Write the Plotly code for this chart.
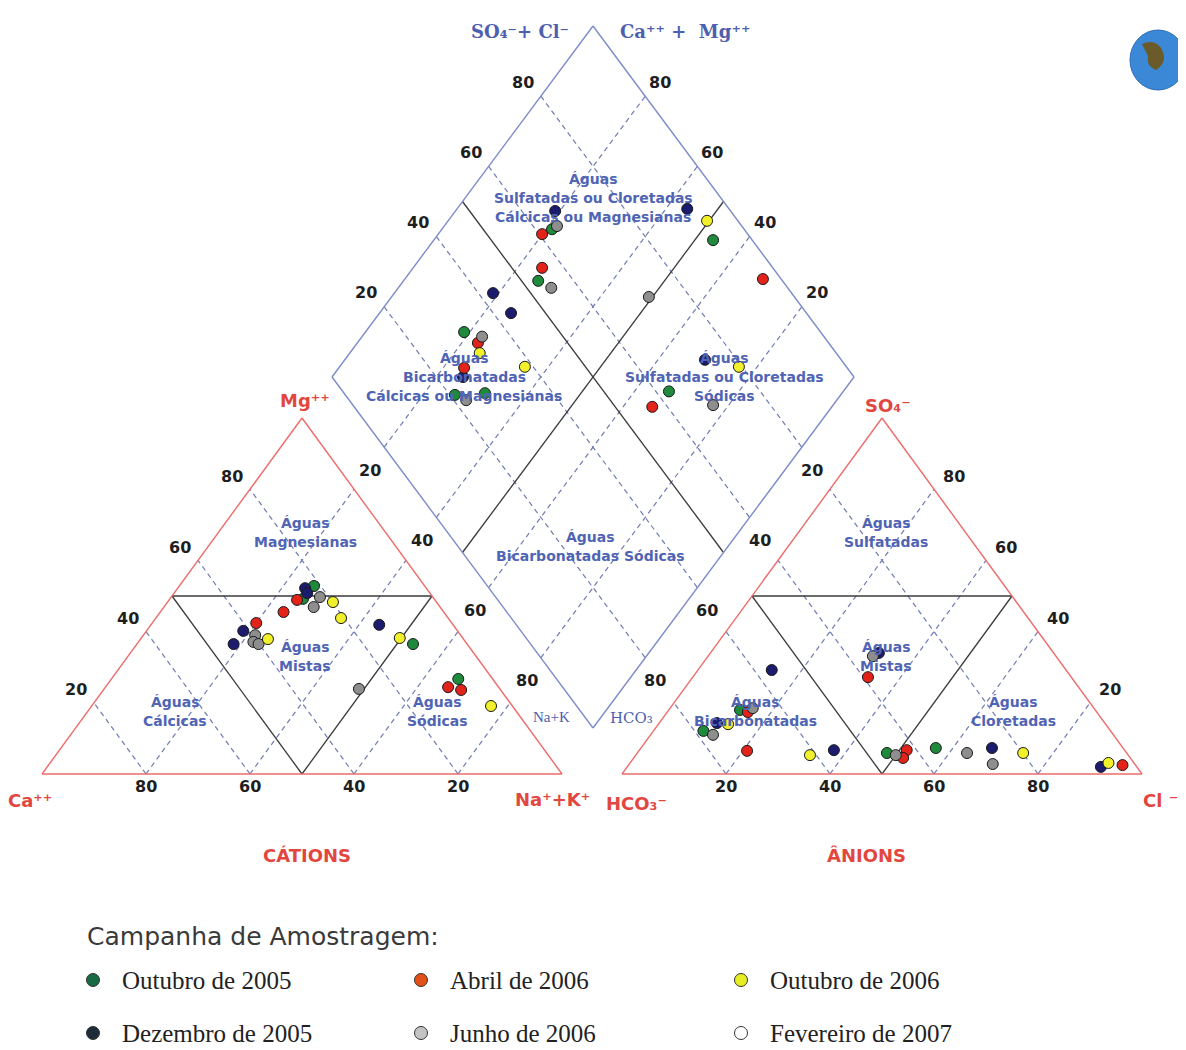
import plotly.graph_objects as go

# ---------------- data ----------------
SERIES = ["Outubro de 2005", "Dezembro de 2005", "Abril de 2006",
          "Junho de 2006", "Outubro de 2006", "Fevereiro de 2007"]
POINT_COLORS = ["#1f8a3c", "#1c1c6e", "#e2231a", "#8e8e8e", "#f2f02a", "#ffffff"]
LEGEND_COLORS = ["#166b45", "#1e2b38", "#e2501a", "#c4c4c4", "#e6ee22", "#ffffff"]

# Cations (% meq/L): series index, Mg++, Na+ + K+   (Ca++ = 100 - Mg - NaK)
cat_series = [0, 0, 0, 0,
              1, 1, 1, 1, 1,
              2, 2, 2, 2, 2,
              3, 3, 3, 3, 3, 3,
              4, 4, 4, 4, 4]
cat_mg = [52.8, 49.2, 36.5, 26.7,
          52.2, 50.8, 41.9, 40.2, 36.5,
          48.9, 45.5, 42.4, 24.4, 23.6,
          49.7, 46.9, 39.0, 37.1, 36.5, 23.9,
          48.3, 43.8, 37.9, 38.2, 19.1]
cat_nak = [25.9, 25.6, 53.1, 66.7,
           24.5, 25.6, 43.9, 18.6, 18.6,
           24.6, 23.7, 20.0, 65.9, 68.8,
           28.6, 28.8, 21.5, 22.1, 23.4, 49.0,
           31.8, 35.6, 24.5, 49.7, 76.8]

# Anions (% meq/L): series index, SO4--, Cl-   (HCO3- = 100 - SO4 - Cl)
an_series = [0, 0, 0, 0,
             1, 1, 1, 1, 1, 1,
             2, 2, 2, 2, 2, 2,
             3, 3, 3, 3, 3, 3,
             4, 4, 4, 4]
an_so4 = [18.0, 12.1, 5.9, 7.3,
          29.2, 14.3, 6.7, 34.0, 7.3, 2.0,
          17.4, 6.5, 27.2, 6.7, 4.5, 2.5,
          18.5, 11.0, 33.1, 5.3, 5.9, 2.8,
          14.0, 5.3, 5.9, 3.1]
an_cl = [13.7, 9.6, 48.0, 56.7,
         14.2, 11.1, 37.4, 32.4, 67.5, 91.1,
         15.5, 20.8, 33.7, 51.4, 51.8, 95.0,
         15.9, 12.0, 31.7, 50.0, 63.4, 69.9,
         13.4, 33.5, 74.2, 92.0]

# Diamond: series index, Na+K (%), SO4+Cl (%)
dia_series = [0, 0, 0, 0, 0, 0, 0,
              1, 1, 1, 1, 1, 1,
              2, 2, 2, 2, 2, 2,
              3, 3, 3, 3, 3, 3,
              4, 4, 4, 4]
dia_nak = [21.1, 25.8, 18.9, 26.1, 31.6, 53.5, 66.6,
           19.1, 18.9, 25.2, 25.1, 44.1, 69.0,
           19.9, 24.7, 23.1, 24.0, 68.6, 65.6,
           21.6, 29.3, 23.0, 29.0, 49.3, 77.0,
           24.9, 35.5, 49.6, 76.5]
dia_so4cl = [63.2, 53.2, 31.7, 21.0, 27.0, 92.5, 62.5,
             66.4, 42.8, 43.4, 25.1, 92.0, 73.9,
             60.6, 55.8, 32.8, 26.6, 96.5, 57.1,
             64.6, 54.7, 34.5, 22.4, 72.1, 69.0,
             31.7, 38.4, 94.1, 79.4]

TICKS = [20, 40, 60, 80]

# ---------------- geometry (page frame) ----------------
CAT = (42, 562, 774, 356)   # left x, right x, base y, height
AN = (622, 1142, 774, 356)
DIA_X0, DIA_Y0, DIA_DX, DIA_DY = 332, 377, 2.61, 3.51
OFF = 8  # page body margin


def tri(T, right, top):
    x0, x1, yb, h = T
    return x0 + (x1 - x0) * (right + top / 2) / 100, yb - h * top / 100


def dia(a, b):
    return DIA_X0 + DIA_DX * (a + b), DIA_Y0 + DIA_DY * (a - b)


fig = go.Figure()


def add_lines(segs, color, width, dash="solid"):
    xs, ys = [], []
    for p, q in segs:
        xs += [p[0], q[0], None]
        ys += [p[1], q[1], None]
    fig.add_trace(go.Scatter(x=xs, y=ys, mode="lines",
                             line=dict(color=color, width=width, dash=dash),
                             hoverinfo="skip", showlegend=False))


GRID = "#6f7bb2"
dash_segs, black_segs, red_segs, blue_segs = [], [], [], []
for T in (CAT, AN):
    for v in TICKS:
        dash_segs.append((tri(T, 100 - v, 0), tri(T, 0, 100 - v)))
        dash_segs.append((tri(T, v, 0), tri(T, v, 100 - v)))
    black_segs += [(tri(T, 0, 50), tri(T, 50, 50)),
                   (tri(T, 50, 0), tri(T, 0, 50)),
                   (tri(T, 50, 0), tri(T, 50, 50))]
    c = [tri(T, 0, 0), tri(T, 100, 0), tri(T, 0, 100)]
    red_segs += [(c[0], c[1]), (c[1], c[2]), (c[2], c[0])]
for v in TICKS:
    dash_segs.append((dia(v, 0), dia(v, 100)))
    dash_segs.append((dia(0, v), dia(100, v)))
black_segs += [(dia(50, 0), dia(50, 100)), (dia(0, 50), dia(100, 50))]
d = [dia(0, 0), dia(0, 100), dia(100, 100), dia(100, 0)]
blue_segs += [(d[0], d[1]), (d[1], d[2]), (d[2], d[3]), (d[3], d[0])]

add_lines(dash_segs, GRID, 1.2, "5px,4px")
add_lines(black_segs, "#3a3a3a", 1.3)
add_lines(red_segs, "#ee6b6b", 1.4)
add_lines(blue_segs, "#7d8bc9", 1.4)

# ---------------- sample points ----------------
for s in range(5):
    xs, ys = [], []
    for i, k in enumerate(cat_series):
        if k == s:
            x, y = tri(CAT, cat_nak[i], cat_mg[i]); xs.append(x); ys.append(y)
    for i, k in enumerate(an_series):
        if k == s:
            x, y = tri(AN, an_cl[i], an_so4[i]); xs.append(x); ys.append(y)
    for i, k in enumerate(dia_series):
        if k == s:
            x, y = dia(dia_nak[i], dia_so4cl[i]); xs.append(x); ys.append(y)
    fig.add_trace(go.Scatter(x=xs, y=ys, mode="markers", name=SERIES[s],
                             marker=dict(size=11, color=POINT_COLORS[s],
                                         line=dict(color="#1a1a1a", width=1)),
                             showlegend=False))

ann = []


def text(x, y, t, size, color, family="DejaVu Sans", xanchor="center", yanchor="middle"):
    ann.append(dict(x=x, y=y, xref="x", yref="y", text=t, showarrow=False,
                    font=dict(size=size, color=color, family=family),
                    xanchor=xanchor, yanchor=yanchor))


# ---------------- tick labels ----------------
TF = dict(size=16, color="#1e1e1e", family="DejaVu Sans")
for v in TICKS:
    x, y = tri(CAT, 0, v); text(x - 18, y - 13, "<b>%d</b>" % v, **TF)          # Mg
    x, y = tri(CAT, 0, 0); x += (CAT[1] - CAT[0]) * (100 - v) / 100
    text(x, y + 12, "<b>%d</b>" % v, **TF)                                      # Ca
    x, y = tri(AN, 100 - v, v); text(x + 20, y - 13, "<b>%d</b>" % v, **TF)    # SO4
    x, y = tri(AN, v, 0); text(x, y + 12, "<b>%d</b>" % v, **TF)                # Cl
    x, y = dia(0, v); text(x - 18, y - 14, "<b>%d</b>" % v, **TF)               # SO4+Cl
    x, y = dia(100 - v, 100); text(x + 15, y - 14, "<b>%d</b>" % v, **TF)       # Ca+Mg
    x, y = dia(v, 0); text(x - 14, y + 23, "<b>%d</b>" % v, **TF)               # Na+K
    x, y = dia(100, 100 - v); text(x + 10, y + 23, "<b>%d</b>" % v, **TF)       # HCO3

# ---------------- axis / corner labels ----------------
BLUE_T = "#4d5fae"
text(520, 31, "<b>SO₄⁻+ Cl⁻</b>", 18, BLUE_T, "DejaVu Serif")
text(685, 31, "<b>Ca⁺⁺ +  Mg⁺⁺</b>", 18, BLUE_T, "DejaVu Serif")
text(551, 717, "Na+K", 15, BLUE_T, "Liberation Serif")
text(631, 718, "HCO₃", 15, BLUE_T, "DejaVu Serif")

RED_T = "#e2473f"
text(305, 400, "<b>Mg⁺⁺</b>", 18, RED_T)
text(30, 800, "<b>Ca⁺⁺</b>", 18, RED_T)
text(552, 799, "<b>Na⁺+K⁺</b>", 18, RED_T)
text(636, 803, "<b>HCO₃⁻</b>", 18, RED_T)
text(888, 405, "<b>SO₄⁻</b>", 18, RED_T)
text(1160, 800, "<b>Cl ⁻</b>", 18, RED_T)
text(307, 855, "<b>CÁTIONS</b>", 18, RED_T)
text(866, 855, "<b>ÂNIONS</b>", 18, RED_T)

# ---------------- region names ----------------
RF = 14
REG_T = "#5064b4"
regions = [
    (593, ["Águas", "Sulfatadas ou Cloretadas", "Cálcicas ou Magnesianas"], 179),
    (464, ["Águas", "Bicarbonatadas", "Cálcicas ou Magnesianas"], 358),
    (724, ["Águas", "Sulfatadas ou Cloretadas", "Sódicas"], 358),
    (590, ["Águas", "Bicarbonatadas Sódicas"], 537),
    (305, ["Águas", "Magnesianas"], 523),
    (305, ["Águas", "Mistas"], 647),
    (175, ["Águas", "Cálcicas"], 702),
    (437, ["Águas", "Sódicas"], 702),
    (886, ["Águas", "Sulfatadas"], 523),
    (886, ["Águas", "Mistas"], 647),
    (755, ["Águas", "Bicarbonatadas"], 702),
    (1013, ["Águas", "Cloretadas"], 702),
]
for x, lines, y0 in regions:
    for j, ln in enumerate(lines):
        text(x, y0 + 19 * j, "<b>%s</b>" % ln, RF, REG_T)

# ---------------- legend ----------------
text(85, 936, "Campanha de Amostragem:", 25, "#3a3a3a", "DejaVu Sans", xanchor="left")
leg_cols = [93, 421, 741]
leg_rows = [980, 1033]
lx, ly = [], []
for s in range(6):
    cx, ry = leg_cols[s // 2], leg_rows[s % 2]
    lx.append(cx); ly.append(ry)
    text(cx + 27, ry, SERIES[s], 25, "#222222", "Liberation Serif", xanchor="left")
fig.add_trace(go.Scatter(x=lx, y=ly, mode="markers", showlegend=False, hoverinfo="skip",
                         marker=dict(size=13, color=LEGEND_COLORS,
                                     line=dict(color="#333333", width=1))))

# ---------------- logo (globe) ----------------
shapes = [dict(type="circle", xref="x", yref="y", x0=1130, x1=1186, y0=30, y1=90,
               fillcolor="#3b88d6", line=dict(color="#2a6fb8", width=1)),
          dict(type="path", xref="x", yref="y",
               path="M1142,44 Q1156,38 1162,50 Q1168,62 1156,70 Q1146,66 1148,56 Z",
               fillcolor="#6b5a2a", line=dict(width=0))]

fig.update_layout(
    width=1186 - OFF, height=1050 - OFF, margin=dict(l=0, r=0, t=0, b=0),
    paper_bgcolor="white", plot_bgcolor="white", showlegend=False,
    xaxis=dict(range=[OFF, 1186], visible=False, fixedrange=True),
    yaxis=dict(range=[1050, OFF], visible=False, fixedrange=True),
    annotations=ann, shapes=shapes,
)
fig.write_html("out.html")
